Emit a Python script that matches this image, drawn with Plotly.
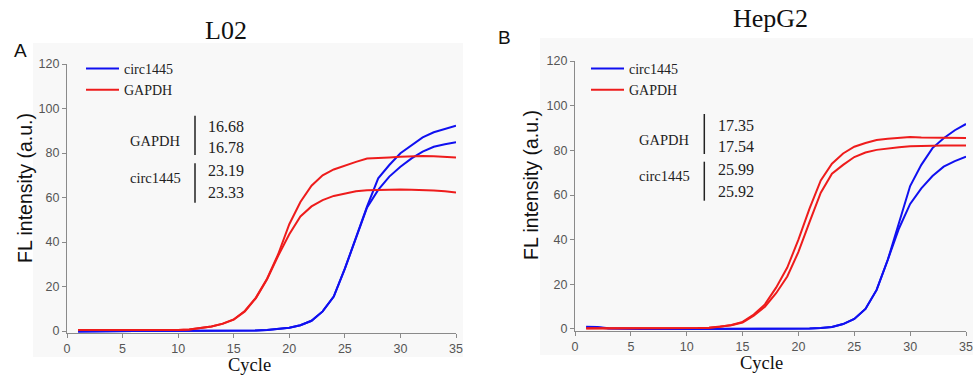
import plotly.graph_objects as go

W, H = 973, 378

cycles = list(range(1, 36))

# L02 panel
l02_gapdh_1 = [0.5, 0.5, 0.3, 0.2, 0.2, 0.2, 0.2, 0.2, 0.3, 0.4, 0.7, 1.2, 2.0, 3.3, 5.2, 9.0, 15.0, 23.5, 34.5,
               48, 58, 65.3, 70, 72.6, 74.4, 76, 77.5, 77.9, 78.0, 78.3, 78.6, 78.6, 78.5, 78.3, 78.0]
l02_gapdh_2 = [0.4, 0.4, 0.3, 0.2, 0.2, 0.2, 0.2, 0.2, 0.3, 0.4, 0.7, 1.2, 2.0, 3.2, 5.1, 8.8, 14.8, 23.2, 33.8,
               43.5, 51.5, 56, 58.8, 60.7, 61.9, 62.8, 63.3, 63.5, 63.7, 63.6, 63.5, 63.4, 63.2, 62.8, 62.3]
l02_circ_1 = [-0.2, -0.1, 0.0, 0.0, 0.0, 0.0, 0.0, 0.0, 0.0, 0.0, 0.0, 0.0, 0.0, 0.0, 0.1, 0.1, 0.2, 0.4, 0.8,
              1.5, 2.6, 4.6, 8.8, 15.5, 28, 42, 56, 68.6, 74.6, 79.9, 83.6, 87, 89.3, 90.8, 92.3]
l02_circ_2 = [-0.2, -0.1, 0.0, 0.0, 0.0, 0.0, 0.0, 0.0, 0.0, 0.0, 0.0, 0.0, 0.0, 0.0, 0.1, 0.1, 0.2, 0.4, 0.8,
              1.5, 2.6, 4.6, 8.8, 15.5, 28, 42, 55.5, 63.4, 69.4, 73.8, 77.6, 80.6, 82.8, 83.9, 84.8]

# HepG2 panel
hep_gapdh_1 = [0.3, 0.3, 0.2, 0.2, 0.2, 0.2, 0.2, 0.2, 0.2, 0.3, 0.4, 0.6, 1.0, 1.8, 3.2, 6.5, 11.0, 18.5, 27.5,
               40, 54, 66.5, 74, 78.6, 81.6, 83.3, 84.6, 85.2, 85.7, 86.0, 85.8, 85.7, 85.6, 85.6, 85.5]
hep_gapdh_2 = [0.2, 0.2, 0.2, 0.2, 0.2, 0.2, 0.2, 0.2, 0.2, 0.3, 0.4, 0.6, 1.0, 1.7, 2.9, 6.0, 10.0, 16.0, 23.5,
               34.5, 48, 61, 69.5, 73.5, 77, 79, 80.2, 80.9, 81.4, 81.8, 82.0, 82.1, 82.2, 82.2, 82.2]
hep_circ_1 = [1.0, 0.9, 0.3, 0.1, 0.0, 0.0, 0.0, 0.0, 0.0, 0.0, 0.0, 0.0, 0.0, 0.0, 0.0, 0.0, 0.0, 0.0, 0.0,
              0.1, 0.2, 0.4, 0.9, 2.2, 4.5, 9, 17.5, 31, 47, 64, 73.5, 81, 85.4, 89, 91.8]
hep_circ_2 = [0.8, 0.7, 0.2, 0.1, 0.0, 0.0, 0.0, 0.0, 0.0, 0.0, 0.0, 0.0, 0.0, 0.0, 0.0, 0.0, 0.0, 0.0, 0.0,
              0.1, 0.2, 0.4, 0.9, 2.2, 4.5, 9, 17.5, 31, 45, 56, 63, 68.5, 72.7, 75.2, 77.2]

panel_titles = ["L02", "HepG2"]
panel_letters = ["A", "B"]
ct_left = ["16.68", "16.78", "23.19", "23.33"]
ct_right = ["17.35", "17.54", "25.99", "25.92"]
x_ticks = [0, 5, 10, 15, 20, 25, 30, 35]
y_ticks = [0, 20, 40, 60, 80, 100, 120]

BLUE = "#1010f0"
RED = "#ee1c1c"
SERIF = "Liberation Serif, Times New Roman, serif"
SANS = "Liberation Sans, Arial, sans-serif"


def px(x):
    return x / W


def py(y):
    return 1 - y / H


fig = go.Figure()

def add_pair(xa, ya, vals1, vals2, color, name, legend):
    fig.add_trace(go.Scatter(x=cycles, y=vals1, mode="lines", line=dict(color=color, width=2),
                             name=name, legendgroup=name + legend, showlegend=True,
                             legend=legend, xaxis=xa, yaxis=ya))
    fig.add_trace(go.Scatter(x=cycles, y=vals2, mode="lines", line=dict(color=color, width=2),
                             name=name, legendgroup=name + legend, showlegend=False,
                             legend=legend, xaxis=xa, yaxis=ya))

add_pair("x", "y", l02_circ_1, l02_circ_2, BLUE, "circ1445", "legend")
add_pair("x", "y", l02_gapdh_1, l02_gapdh_2, RED, "GAPDH", "legend")
add_pair("x2", "y2", hep_circ_1, hep_circ_2, BLUE, "circ1445", "legend2")
add_pair("x2", "y2", hep_gapdh_1, hep_gapdh_2, RED, "GAPDH", "legend2")

axis_common = dict(showline=True, linecolor="#8a8a8a", linewidth=1.2, ticks="outside", ticklen=4,
                   tickcolor="#8a8a8a", tickfont=dict(family=SANS, size=12.5, color="#555"),
                   showgrid=False, zeroline=False, fixedrange=True)

fig.update_layout(
    width=W, height=H,
    margin=dict(l=0, r=0, t=0, b=0, pad=0, autoexpand=False),
    paper_bgcolor="white",
    plot_bgcolor="rgba(0,0,0,0)",
    xaxis=dict(domain=[px(67), px(456)], range=[0, 35], tickvals=x_ticks, anchor="y", **axis_common),
    yaxis=dict(domain=[py(333), py(64)], range=[-0.9, 120], tickvals=y_ticks, anchor="x", **axis_common),
    xaxis2=dict(domain=[px(575), px(966)], range=[0, 35], tickvals=x_ticks, anchor="y2", **axis_common),
    yaxis2=dict(domain=[py(331), py(61)], range=[-0.9, 120], tickvals=y_ticks, anchor="x2", **axis_common),
    legend=dict(x=px(81), y=py(53), xanchor="left", yanchor="top", bgcolor="rgba(0,0,0,0)",
                font=dict(family=SERIF, size=14, color="#222"), tracegroupgap=0, itemwidth=33),
    legend2=dict(x=px(586), y=py(53), xanchor="left", yanchor="top", bgcolor="rgba(0,0,0,0)",
                 font=dict(family=SERIF, size=14, color="#222"), tracegroupgap=0, itemwidth=33),
    showlegend=True,
)

shapes = [
    dict(type="rect", xref="paper", yref="paper", x0=px(33), x1=px(463), y0=py(357), y1=py(43),
         fillcolor="#f8f8f8", line=dict(width=0), layer="below"),
    dict(type="rect", xref="paper", yref="paper", x0=px(540), x1=px(973), y0=py(355), y1=py(38),
         fillcolor="#f8f8f8", line=dict(width=0), layer="below"),
]
for xb, segs in [(195, [(115.7, 155), (163.3, 202.7)]), (704.3, [(114, 154), (161.7, 200.7)])]:
    for a, b in segs:
        shapes.append(dict(type="line", xref="paper", yref="paper", x0=px(xb), x1=px(xb),
                           y0=py(a), y1=py(b), line=dict(color="#222", width=1.5)))
fig.update_layout(shapes=shapes)

ann = []
def text(x, y, s, size, family, xanchor="center", color="#222", angle=0):
    ann.append(dict(x=px(x), y=py(y), xref="paper", yref="paper", text=s, showarrow=False,
                    xanchor=xanchor, yanchor="middle", textangle=angle,
                    font=dict(family=family, size=size, color=color)))

# titles and letters
text(226, 31, panel_titles[0], 26, SERIF, color="#111")
text(770, 19, panel_titles[1], 26, SERIF, color="#111")
text(20, 51, panel_letters[0], 19, SANS, color="#111")
text(504, 38, panel_letters[1], 19, SANS, color="#111")
# axis titles
text(25, 188, "FL intensity (a.u.)", 19.5, SANS, color="#111", angle=-90)
text(531, 185, "FL intensity (a.u.)", 19.5, SANS, color="#111", angle=-90)
text(249, 365, "Cycle", 18.5, SERIF, color="#111")
text(761, 363, "Cycle", 18.5, SERIF, color="#111")
# Ct annotations
text(128, 141, "GAPDH", 14.5, SERIF, xanchor="left")
text(128, 178, "circ1445", 14.5, SERIF, xanchor="left")
for s, yy in zip(ct_left, [126.7, 147.3, 170.7, 192.7]):
    text(206, yy, s, 16, SERIF, xanchor="left")
text(637, 140, "GAPDH", 14.5, SERIF, xanchor="left")
text(637, 176, "circ1445", 14.5, SERIF, xanchor="left")
for s, yy in zip(ct_right, [125, 146.7, 169.3, 191.7]):
    text(715.5, yy, s, 16, SERIF, xanchor="left")
fig.update_layout(annotations=ann)

fig.write_html(
    "out.html",
    config={"displayModeBar": False},
    post_script=(
        "var st=document.createElement('style');"
        "st.textContent='html,body{margin:0;padding:0;width:973px;height:378px;overflow:hidden;}';"
        "document.head.appendChild(st);"
        "var gd=document.getElementById('{plot_id}');"
        "gd.style.position='fixed';gd.style.left='0px';gd.style.top='0px';"
    ),
)
